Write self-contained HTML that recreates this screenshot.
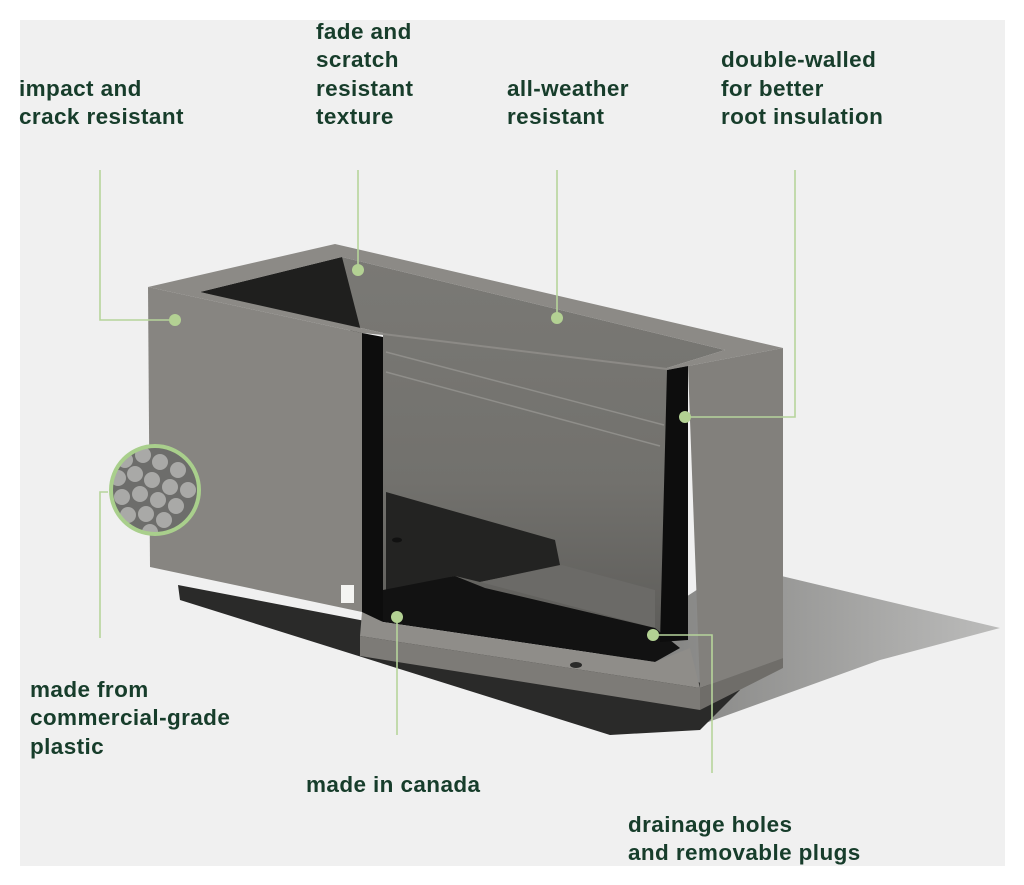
<!DOCTYPE html>
<html><head><meta charset="utf-8"><style>
html,body{margin:0;padding:0;background:#fff;}
body{width:1024px;height:885px;overflow:hidden;}
svg{display:block;}
text{font-family:"Liberation Sans",sans-serif;font-size:22.5px;fill:#173d2b;font-weight:bold;letter-spacing:0.4px;}
</style></head><body>
<svg width="1024" height="885" viewBox="0 0 1024 885" xmlns="http://www.w3.org/2000/svg">
<defs>
<linearGradient id="bw" x1="0" y1="0" x2="0" y2="1">
<stop offset="0" stop-color="#7a7975"/><stop offset="0.6" stop-color="#72716d"/><stop offset="1" stop-color="#5e5d5a"/>
</linearGradient>
<linearGradient id="sh" x1="0" y1="0" x2="1" y2="0">
<stop offset="0" stop-color="#6e6e6c"/><stop offset="1" stop-color="#bcbcbb"/>
</linearGradient>
<clipPath id="cc"><circle cx="155" cy="490" r="44"/></clipPath>
</defs>
<rect x="20" y="20" width="985" height="846" fill="#f0f0f0"/>
<!-- shadows -->
<polygon points="735,565 1000,628 880,660 700,725 520,705" fill="url(#sh)"/>
<polygon points="178,585 360,620 740,690 700,730 610,735 180,600" fill="#2a2a29"/>
<!-- inner back wall -->
<polygon points="200,292 342,257 725,350 667,368 667,632 383,620 383,333" fill="url(#bw)"/>
<!-- inner left end wall dark -->
<polygon points="200,292 342,257 362,335 383,340 383,560 350,330" fill="#1f1f1e"/>
<!-- ledge lines -->
<line x1="386" y1="352" x2="664" y2="425" stroke="#8f8e8a" stroke-width="1.5"/>
<line x1="386" y1="372" x2="660" y2="446" stroke="#8f8e8a" stroke-width="1.5"/>
<!-- interior shelf / floor -->
<polygon points="386,492 555,540 560,565 480,582 455,576 386,592" fill="#232322"/>
<polygon points="480,582 562,565 655,590 655,628" fill="#6b6a67"/>
<polygon points="383,590 455,576 485,588 655,628 680,648 655,662 383,622" fill="#121212"/>
<ellipse cx="397" cy="540" rx="5" ry="2.5" fill="#111"/>
<!-- rim top -->
<path fill-rule="evenodd" fill="#8c8a86" d="M148,287 L335,244 L783,348 L688,366 L667,370 L383,335 L362,333 Z M200,292 L383,333 L667,368 L725,350 L342,257 Z"/>
<!-- left front face -->
<polygon points="148,287 362,333 362,612 150,567" fill="#878581"/>
<!-- left wall cut section -->
<polygon points="362,333 383,337 383,622 362,615" fill="#0d0d0d"/>
<!-- right wall side face -->
<polygon points="688,366 783,348 783,658 700,688" fill="#82807c"/>
<!-- right wall cut -->
<polygon points="667,370 688,366 688,640 660,642" fill="#0d0d0d"/>
<!-- slab -->
<polygon points="362,612 383,622 655,662 690,648 700,688 360,636" fill="#8f8d89"/>
<polygon points="360,636 700,688 700,710 360,656" fill="#7d7b77"/>
<polygon points="700,688 783,658 783,668 700,710" fill="#6f6d69"/>
<ellipse cx="576" cy="665" rx="6" ry="3" fill="#2a2a29"/>
<rect x="341" y="585" width="13" height="18" fill="#f4f4f2"/>
<!-- texture circle -->
<g clip-path="url(#cc)">
<rect x="105" y="440" width="100" height="100" fill="#6d6d6b"/>
<g fill="#a9a9a7">
<circle cx="125" cy="460" r="8"/><circle cx="143" cy="455" r="8"/><circle cx="160" cy="462" r="8"/><circle cx="178" cy="470" r="8"/>
<circle cx="118" cy="478" r="8"/><circle cx="135" cy="474" r="8"/><circle cx="152" cy="480" r="8"/><circle cx="170" cy="487" r="8"/><circle cx="188" cy="490" r="8"/>
<circle cx="122" cy="497" r="8"/><circle cx="140" cy="494" r="8"/><circle cx="158" cy="500" r="8"/><circle cx="176" cy="506" r="8"/>
<circle cx="128" cy="515" r="8"/><circle cx="146" cy="514" r="8"/><circle cx="164" cy="520" r="8"/><circle cx="150" cy="532" r="8"/>
</g>
</g>
<circle cx="155" cy="490" r="44" fill="none" stroke="#a9cf8c" stroke-width="4"/>
<!-- callouts -->
<g stroke="#b6d49b" stroke-width="1.6" fill="none">
<polyline points="100,170 100,320 175,320"/>
<line x1="358" y1="170" x2="358" y2="270"/>
<line x1="557" y1="170" x2="557" y2="318"/>
<polyline points="795,170 795,417 685,417"/>
<polyline points="108,492 100,492 100,638"/>
<line x1="397" y1="617" x2="397" y2="735"/>
<polyline points="653,635 712,635 712,773"/>
</g>
<g fill="#b3d193">
<circle cx="175" cy="320" r="6"/><circle cx="358" cy="270" r="6"/><circle cx="557" cy="318" r="6"/>
<circle cx="685" cy="417" r="6"/><circle cx="397" cy="617" r="6"/><circle cx="653" cy="635" r="6"/>
</g>
<!-- labels -->
<text x="19" y="96">impact and</text>
<text x="19" y="124">crack resistant</text>
<text x="316" y="39">fade and</text>
<text x="316" y="67">scratch</text>
<text x="316" y="96">resistant</text>
<text x="316" y="124">texture</text>
<text x="507" y="96">all-weather</text>
<text x="507" y="124">resistant</text>
<text x="721" y="67">double-walled</text>
<text x="721" y="96">for better</text>
<text x="721" y="124">root insulation</text>
<text x="30" y="697">made from</text>
<text x="30" y="725">commercial-grade</text>
<text x="30" y="754">plastic</text>
<text x="306" y="792">made in canada</text>
<text x="628" y="832">drainage holes</text>
<text x="628" y="860">and removable plugs</text>
</svg>
</body></html>
